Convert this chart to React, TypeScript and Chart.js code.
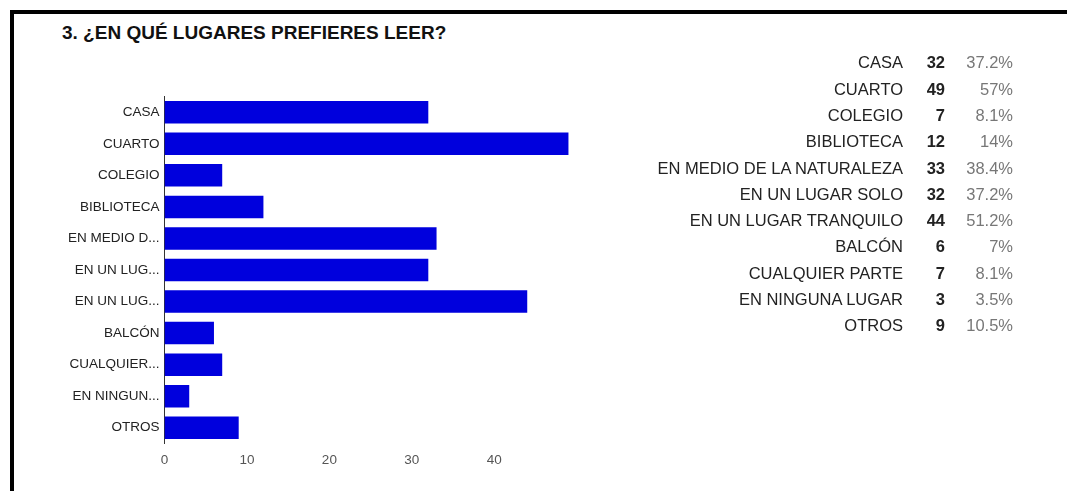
import React, { useEffect, useRef } from "react";
import { Chart, registerables } from "chart.js";

Chart.register(...registerables);

const title = "3. ¿EN QUÉ LUGARES PREFIERES LEER?";
const categories = [
  "CASA",
  "CUARTO",
  "COLEGIO",
  "BIBLIOTECA",
  "EN MEDIO DE LA NATURALEZA",
  "EN UN LUGAR SOLO",
  "EN UN LUGAR TRANQUILO",
  "BALCÓN",
  "CUALQUIER PARTE",
  "EN NINGUNA LUGAR",
  "OTROS",
];
const axisLabels = [
  "CASA",
  "CUARTO",
  "COLEGIO",
  "BIBLIOTECA",
  "EN MEDIO D...",
  "EN UN LUG...",
  "EN UN LUG...",
  "BALCÓN",
  "CUALQUIER...",
  "EN NINGUN...",
  "OTROS",
];
const counts = [32, 49, 7, 12, 33, 32, 44, 6, 7, 3, 9];
const percents = ["37.2%", "57%", "8.1%", "14%", "38.4%", "37.2%", "51.2%", "7%", "8.1%", "3.5%", "10.5%"];
const xTicks = [0, 10, 20, 30, 40];
const xMax = 50;

const FONT = "'Liberation Sans', Arial, Helvetica, sans-serif";

export default function App() {
  const canvasRef = useRef<HTMLCanvasElement | null>(null);

  useEffect(() => {
    if (!canvasRef.current) return;
    const chart = new Chart(canvasRef.current, {
      type: "bar",
      data: {
        labels: axisLabels,
        datasets: [
          {
            data: counts,
            backgroundColor: "#0000dd",
            borderWidth: 0,
            barPercentage: 0.713,
            categoryPercentage: 1,
          },
        ],
      },
      options: {
        animation: false,
        responsive: false,
        maintainAspectRatio: false,
        indexAxis: "y",
        layout: { padding: { left: 0, top: 96.5, right: 23.3, bottom: 17.5 } },
        plugins: { legend: { display: false }, tooltip: { enabled: false } },
        scales: {
          x: {
            type: "linear",
            min: 0,
            max: xMax,
            grid: { display: false, drawTicks: false },
            border: { display: false },
            afterBuildTicks: (scale: any) => {
              scale.ticks = xTicks.map((v) => ({ value: v }));
            },
            afterFit: (scale: any) => {
              scale.height = 30;
            },
            ticks: {
              color: "#555",
              font: { family: FONT, size: 13.5 },
              padding: 9,
              maxRotation: 0,
            },
          },
          y: {
            type: "category",
            grid: { display: false, drawTicks: false },
            border: { display: true, color: "#333", width: 1 },
            afterFit: (scale: any) => {
              scale.width = 164.5;
            },
            ticks: {
              color: "#222",
              font: { family: FONT, size: 13.5 },
              padding: 5,
              autoSkip: false,
            },
          },
        },
      },
    } as any);
    return () => chart.destroy();
  }, []);

  return (
    <div
      style={{
        position: "fixed",
        left: 0,
        top: 0,
        width: 1067,
        height: 491,
        background: "#fff",
        overflow: "hidden",
        fontFamily: FONT,
      }}
    >
      <div
        style={{
          position: "absolute",
          left: 10,
          top: 10,
          width: 1100,
          height: 600,
          borderTop: "4px solid #000",
          borderLeft: "4px solid #000",
          boxSizing: "border-box",
        }}
      />
      <div
        style={{
          position: "absolute",
          left: 62,
          top: 21,
          fontSize: 19,
          fontWeight: "bold",
          color: "#111",
          lineHeight: "24px",
          whiteSpace: "nowrap",
        }}
      >
        {title}
      </div>
      <canvas
        ref={canvasRef}
        width={600}
        height={491}
        style={{ position: "absolute", left: 0, top: 0, width: 600, height: 491 }}
      />
      {categories.map((c, i) => (
        <div
          key={i}
          style={{
            position: "absolute",
            left: 0,
            top: 49.3 + i * 26.3,
            width: 1067,
            height: 26.3,
            lineHeight: "26.3px",
            fontSize: 16.5,
            whiteSpace: "nowrap",
          }}
        >
          <span style={{ position: "absolute", right: 164, color: "#222" }}>{c}</span>
          <span style={{ position: "absolute", right: 122, color: "#222", fontWeight: "bold" }}>{counts[i]}</span>
          <span style={{ position: "absolute", right: 54, color: "#777" }}>{percents[i]}</span>
        </div>
      ))}
    </div>
  );
}
